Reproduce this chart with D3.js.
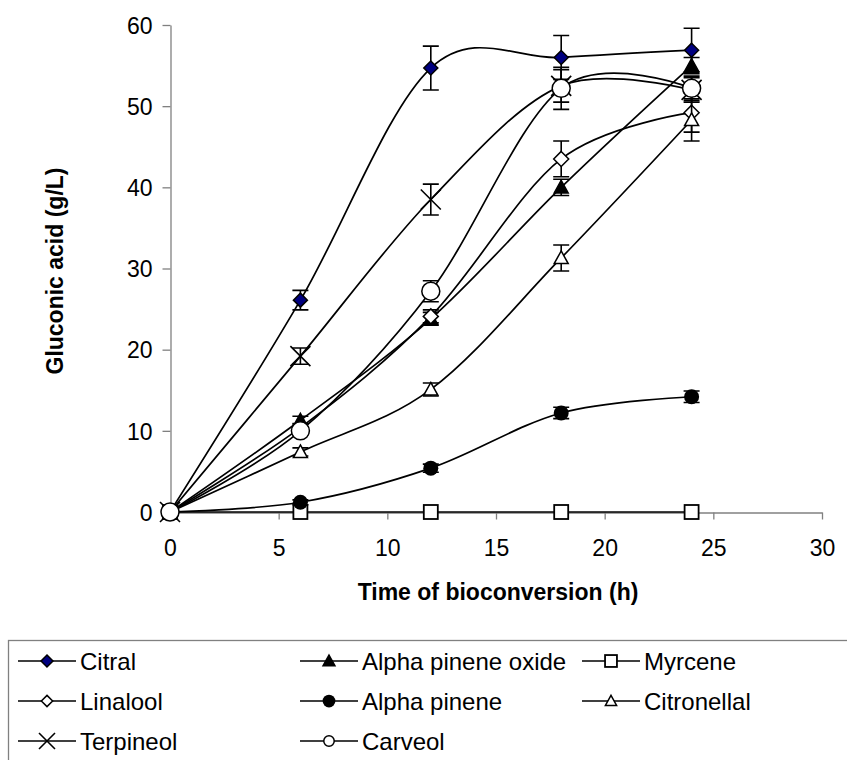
<!DOCTYPE html>
<html>
<head>
<meta charset="utf-8">
<script src="https://d3js.org/d3.v7.min.js"></script>
<style>
    body { margin: 0; background: #fff; }
    text { font-family: Arial, "Liberation Sans", sans-serif; fill: #000; }
</style>
</head>
<body>
<div id="chart"></div>
<script>
// sampling times (h)
var hours = [0, 6, 12, 18, 24];
var xTicks = [0, 5, 10, 15, 20, 25, 30];
var yTicks = [0, 10, 20, 30, 40, 50, 60];

// gluconic acid (g/L) per compound, with +/- error
var citral = [0, 26.1, 54.7, 56.0, 56.9];
var citralErr = [0, 1.2, 2.7, 2.7, 2.7];
var alphaPineneOxide = [0, 11.3, 23.8, 40.0, 55.0];
var alphaPineneOxideErr = [0, 0.5, 0.8, 1.0, 1.0];
var myrcene = [0, 0, 0, 0, 0];
var myrceneErr = [0, 0, 0, 0, 0];
var linalool = [0, 10.4, 24.1, 43.5, 49.2];
var linaloolErr = [0, 0.5, 0.8, 2.2, 2.4];
var alphaPinene = [0, 1.2, 5.4, 12.2, 14.2];
var alphaPineneErr = [0, 0.3, 0.5, 0.7, 0.7];
var citronellal = [0, 7.4, 15.1, 31.3, 48.3];
var citronellalErr = [0, 0.5, 0.8, 1.6, 2.6];
var terpineol = [0, 19.2, 38.5, 52.5, 52.0];
var terpineolErr = [0, 1.0, 1.9, 2.0, 1.5];
var carveol = [0, 10.0, 27.2, 52.2, 52.2];
var carveolErr = [0, 0.5, 1.3, 2.6, 1.5];

var seriesNames = ["Citral", "Alpha pinene oxide", "Myrcene", "Linalool", "Alpha pinene", "Citronellal", "Terpineol", "Carveol"];
var seriesValues = [citral, alphaPineneOxide, myrcene, linalool, alphaPinene, citronellal, terpineol, carveol];
var seriesErrors = [citralErr, alphaPineneOxideErr, myrceneErr, linaloolErr, alphaPineneErr, citronellalErr, terpineolErr, carveolErr];
var seriesMarkers = ["diamondNavy", "triangleFilled", "square", "diamond", "circleFilled", "triangle", "cross", "circle"];

var W = 847, H = 760;
var margin = { top: 25, left: 170, right: 25, bottom: 248 };

var svg = d3.select("#chart").append("svg")
    .attr("width", W)
    .attr("height", H);

var x = d3.scaleLinear().domain([0, 30]).range([margin.left, 822]);
var y = d3.scaleLinear().domain([0, 60]).range([512, margin.top]);

// axes
var yAxis = svg.append("g")
    .attr("transform", "translate(" + (margin.left + 0.5) + ",0)")
    .call(d3.axisLeft(y).tickValues(yTicks).tickSize(8).tickSizeOuter(0).tickPadding(10));
var xAxis = svg.append("g")
    .attr("transform", "translate(0," + (y(0) + 0.5) + ")")
    .call(d3.axisBottom(x).tickValues(xTicks).tickSize(7).tickSizeOuter(0).tickPadding(20));
[xAxis, yAxis].forEach(function (a) {
    a.selectAll("path, line").attr("stroke", "#808080").attr("stroke-width", 1.3);
    a.selectAll("text").style("font-size", "23px").attr("fill", "#000");
});
yAxis.selectAll("text").attr("dy", "0.36em");

// axis titles
svg.append("text")
    .attr("transform", "translate(63,271) rotate(-90)")
    .attr("text-anchor", "middle")
    .style("font-size", "23px").style("font-weight", "bold")
    .text("Gluconic acid (g/L)");
svg.append("text")
    .attr("x", 498).attr("y", 600)
    .attr("text-anchor", "middle")
    .style("font-size", "23px").style("font-weight", "bold")
    .text("Time of bioconversion (h)");

// marker drawing
function drawMarker(g, type, s) {
    if (type == "diamondNavy" || type == "diamond") {
        var h = type == "diamond" ? 7.5 * s : 7 * s;
        g.append("path")
            .attr("d", "M0," + (-h) + "L" + h + ",0L0," + h + "L" + (-h) + ",0Z")
            .attr("fill", type == "diamond" ? "#fff" : "#000080")
            .attr("stroke", "#000").attr("stroke-width", 1.5);
    } else if (type == "triangleFilled" || type == "triangle") {
        var t = 7 * s;
        g.append("path")
            .attr("d", "M0," + (-t) + "L" + t + "," + (t * 0.8) + "L" + (-t) + "," + (t * 0.8) + "Z")
            .attr("fill", type == "triangle" ? "#fff" : "#000")
            .attr("stroke", "#000").attr("stroke-width", 1.5);
    } else if (type == "square") {
        var q = 7 * s;
        g.append("rect")
            .attr("x", -q).attr("y", -q).attr("width", 2 * q).attr("height", 2 * q)
            .attr("fill", "#fff").attr("stroke", "#000").attr("stroke-width", 1.8);
    } else if (type == "circleFilled") {
        g.append("circle").attr("r", 7.5 * s).attr("fill", "#000");
    } else if (type == "circle") {
        g.append("circle").attr("r", 9 * s)
            .attr("fill", "#fff").attr("stroke", "#000").attr("stroke-width", 1.5);
    } else if (type == "cross") {
        var c = 10 * s;
        g.append("path")
            .attr("d", "M" + (-c) + "," + (-c) + "L" + c + "," + c + "M" + (-c) + "," + c + "L" + c + "," + (-c))
            .attr("stroke", "#000").attr("stroke-width", 1.6).attr("fill", "none");
    }
}

var line = d3.line()
    .x(function (d) { return x(d.h); })
    .y(function (d) { return y(d.v); })
    .curve(d3.curveCardinal.tension(0));

seriesNames.forEach(function (name, i) {
    var pts = hours.map(function (h, j) {
        return { h: h, v: seriesValues[i][j], e: seriesErrors[i][j] };
    });
    var g = svg.append("g");
    g.append("path")
        .datum(pts)
        .attr("d", line)
        .attr("fill", "none")
        .attr("stroke", "#000")
        .attr("stroke-width", 1.7);

    // error bars
    pts.filter(function (d) { return d.e > 0; }).forEach(function (d) {
        var cx = x(d.h), y1 = y(d.v + d.e), y2 = y(d.v - d.e);
        g.append("path")
            .attr("d", "M" + cx + "," + y1 + "V" + y2 +
                "M" + (cx - 8) + "," + y1 + "H" + (cx + 8) +
                "M" + (cx - 8) + "," + y2 + "H" + (cx + 8))
            .attr("stroke", "#000").attr("stroke-width", 1.6).attr("fill", "none");
    });

    pts.forEach(function (d) {
        var m = g.append("g").attr("transform", "translate(" + x(d.h) + "," + y(d.v) + ")");
        drawMarker(m, seriesMarkers[i], 1);
    });
});

// legend
var legend = svg.append("g");
legend.append("rect")
    .attr("x", 8.5).attr("y", 640.5)
    .attr("width", 860).attr("height", 140)
    .attr("fill", "none").attr("stroke", "#808080").attr("stroke-width", 1.3);

var colX = [18, 300, 582];
var rowY = [661, 701, 741];
var legendScale = { diamondNavy: 0.85, diamond: 0.75, triangleFilled: 0.85, triangle: 0.8, square: 0.85, circleFilled: 0.85, circle: 0.58, cross: 0.8 };

seriesNames.forEach(function (name, i) {
    var cx = colX[i % 3], cy = rowY[Math.floor(i / 3)];
    var item = legend.append("g").attr("transform", "translate(" + cx + "," + cy + ")");
    item.append("line")
        .attr("x1", 0).attr("x2", 58)
        .attr("stroke", "#000").attr("stroke-width", 1.7);
    var m = item.append("g").attr("transform", "translate(29,0)");
    drawMarker(m, seriesMarkers[i], legendScale[seriesMarkers[i]]);
    item.append("text")
        .attr("x", 62).attr("y", 8.5)
        .style("font-size", "24px")
        .text(name);
});
</script>
</body>
</html>
